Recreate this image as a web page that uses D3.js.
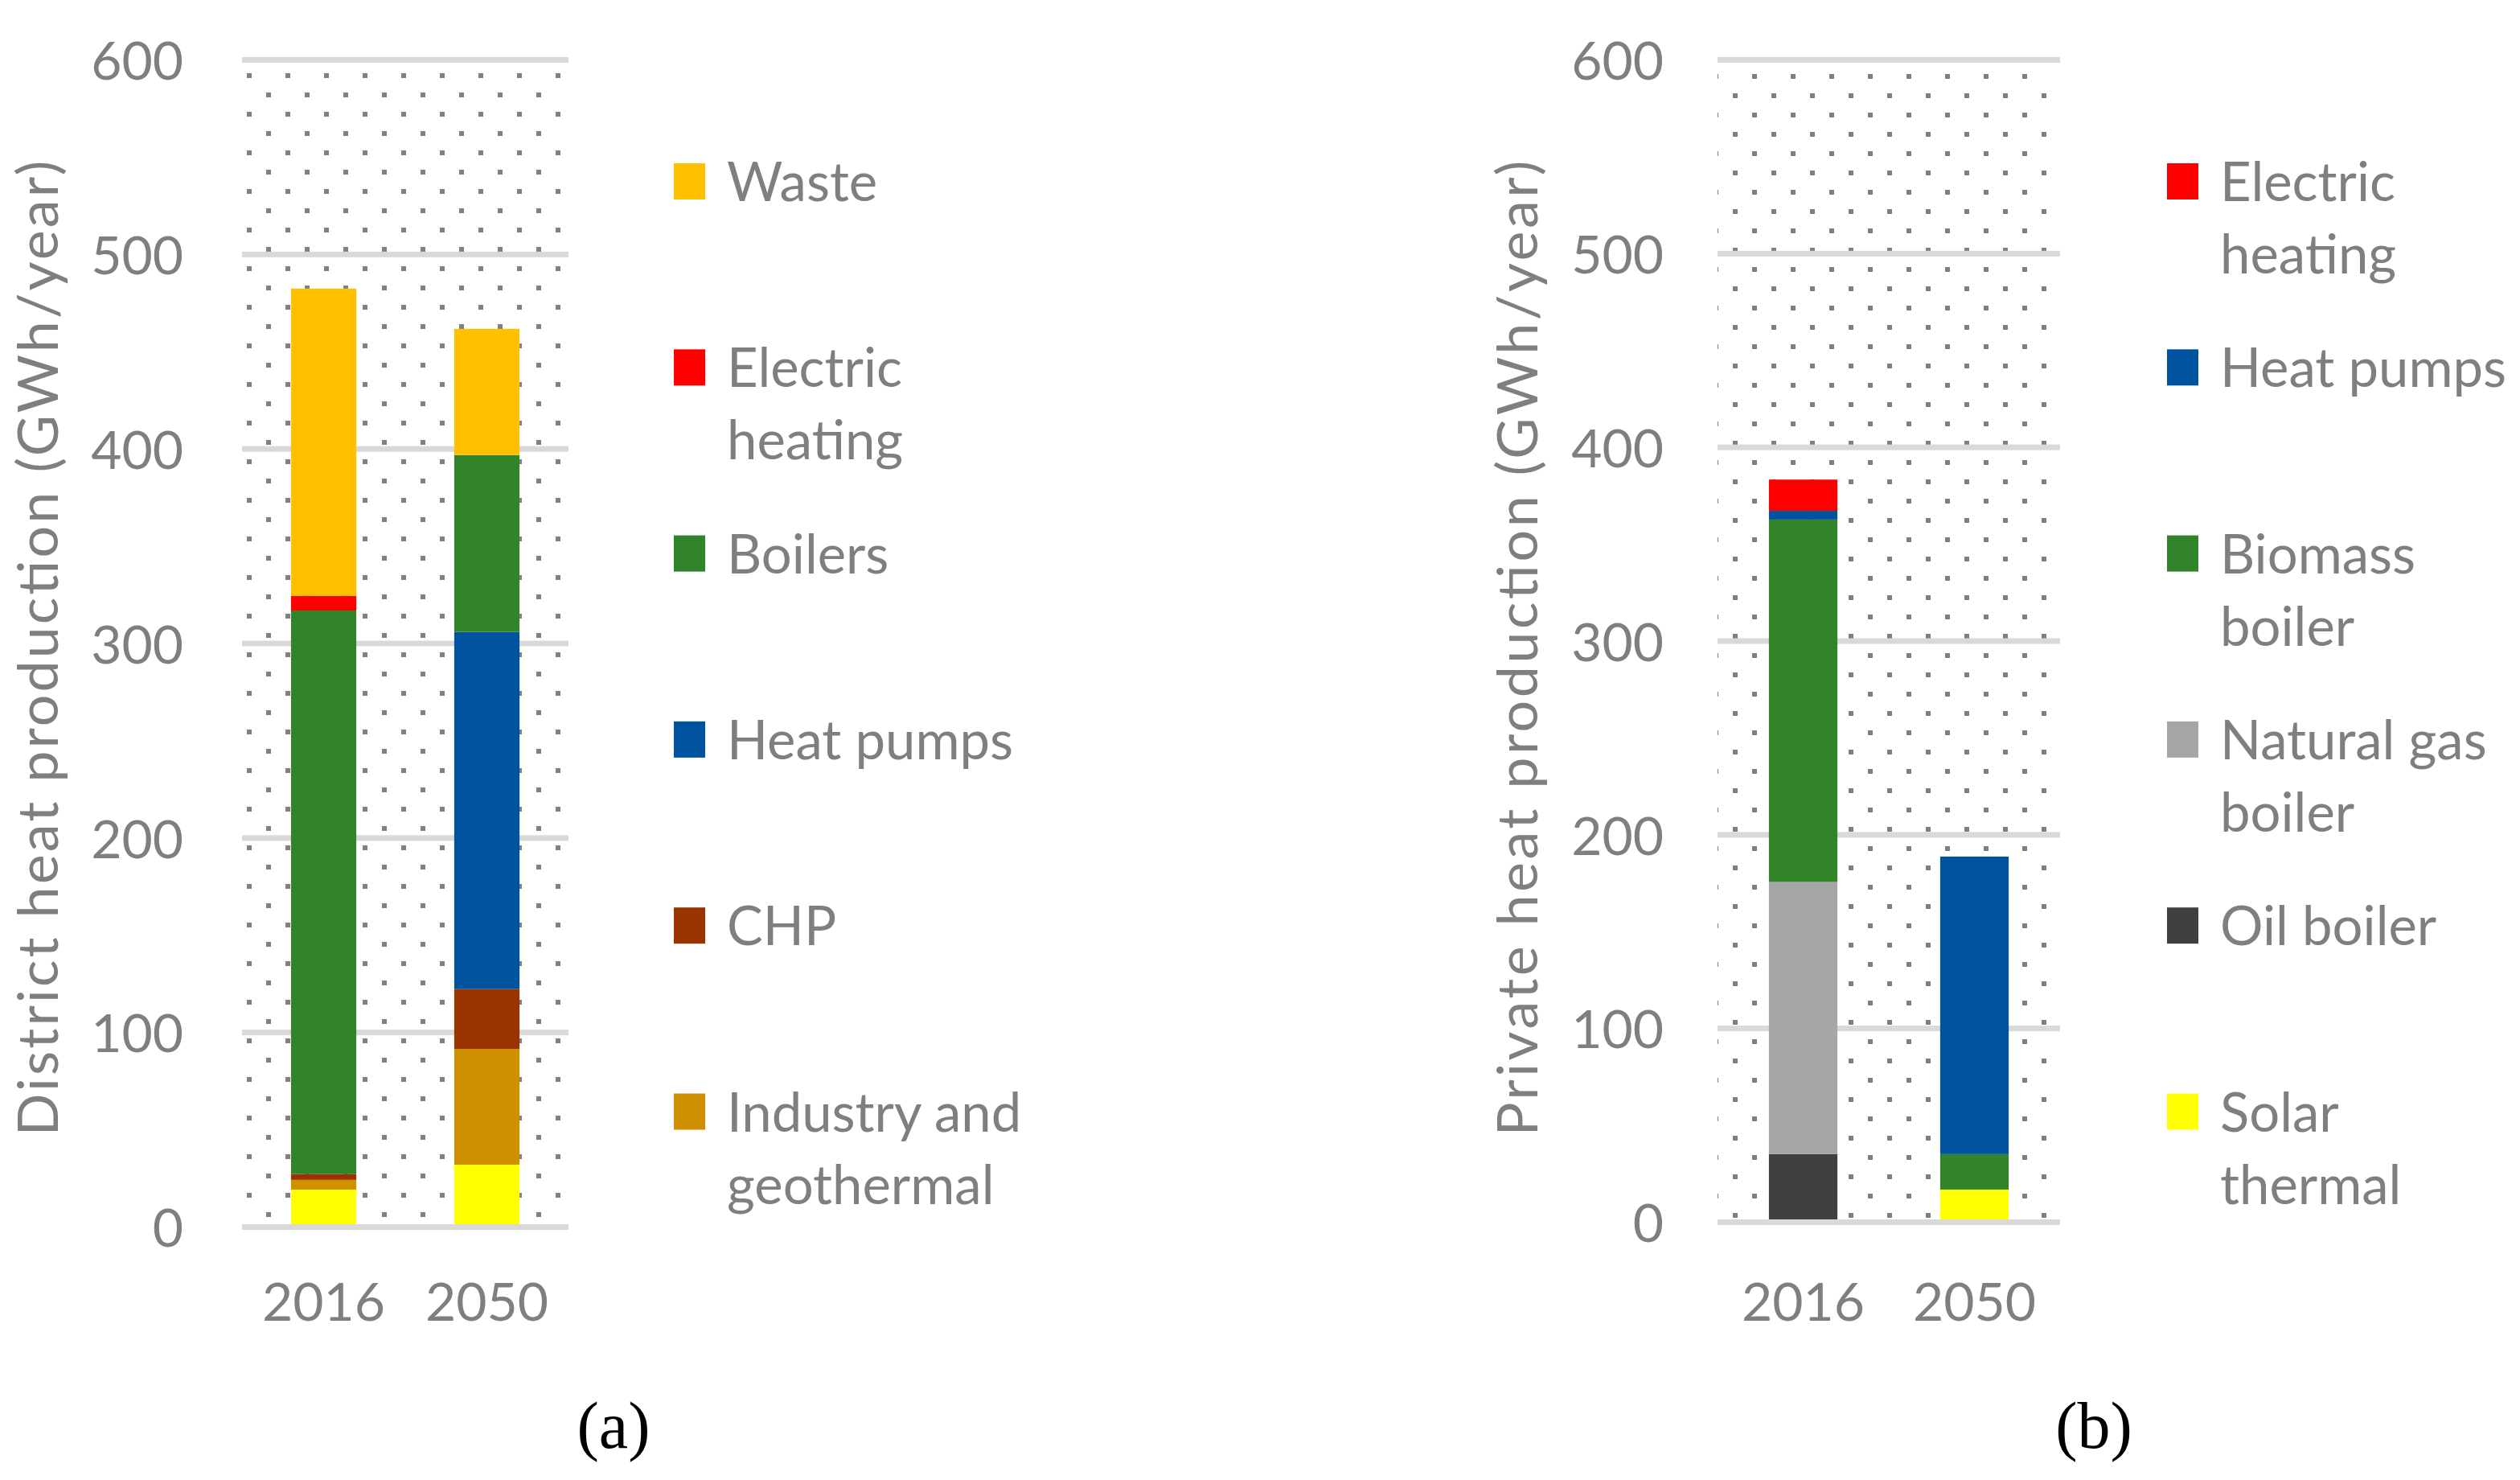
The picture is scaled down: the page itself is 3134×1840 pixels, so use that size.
<!DOCTYPE html>
<html>
<head>
<meta charset="utf-8">
<script src="https://cdn.jsdelivr.net/npm/d3@7"></script>
<style>
  body { margin: 0; background: #fff; }
  svg text { font-family: Lato, "Open Sans", sans-serif; fill: #7f7f7f; }
  svg text.tag { font-family: "Liberation Serif", "DejaVu Serif", serif; fill: #000; }
</style>
</head>
<body>
<div class="chart"></div>
<script>
const years = ["2016", "2050"];
const yTicks = [0, 100, 200, 300, 400, 500, 600];

// (a) district heat, stack order bottom -> top
const districtSeries = ["Solar thermal", "Industry and geothermal", "CHP", "Heat pumps", "Boilers", "Electric heating", "Waste"];
const district2016 = [17.8, 5.0, 3.0, 0, 289.7, 7.5, 158];
const district2050 = [30.6, 59.5, 30.8, 183.6, 90.9, 0, 64.9];
const districtColors = ["#ffff00", "#cf9000", "#993300", "#00549f", "#318429", "#ff0000", "#ffc000"];
const districtLegend = ["Waste", "Electric heating", "Boilers", "Heat pumps", "CHP", "Industry and geothermal"];
const districtLegendLines = [["Waste"], ["Electric", "heating"], ["Boilers"], ["Heat pumps"], ["CHP"], ["Industry and", "geothermal"]];

// (b) private heat, stack order bottom -> top
const privateSeries = ["Solar thermal", "Oil boiler", "Natural gas boiler", "Biomass boiler", "Heat pumps", "Electric heating"];
const private2016 = [0, 33.7, 140.5, 187.1, 4.5, 16.1];
const private2050 = [15.4, 0, 0, 18.3, 153.6, 0];
const privateColors = ["#ffff00", "#404040", "#a6a6a6", "#318429", "#00549f", "#ff0000"];
const privateLegend = ["Electric heating", "Heat pumps", "Biomass boiler", "Natural gas boiler", "Oil boiler", "Solar thermal"];
const privateLegendLines = [["Electric", "heating"], ["Heat pumps"], ["Biomass", "boiler"], ["Natural gas", "boiler"], ["Oil boiler"], ["Solar", "thermal"]];

const W = 3134, H = 1840;
const svg = d3.select(".chart").append("svg")
  .attr("width", W)
  .attr("height", H)
  .style("display", "block");

const defs = svg.append("defs");

const drawPanel = p => {
  const g = svg.append("g");

  // dotted plot-area fill (Excel 10% pattern)
  const pat = defs.append("pattern")
    .attr("id", p.id + "-dots")
    .attr("patternUnits", "userSpaceOnUse")
    .attr("x", p.left + p.dot[0])
    .attr("y", p.top + p.dot[1])
    .attr("width", 48)
    .attr("height", 48);
  pat.append("rect").attr("x", 0).attr("y", 0).attr("width", 6).attr("height", 6).attr("fill", "#808080");
  pat.append("rect").attr("x", 24).attr("y", 24).attr("width", 6).attr("height", 6).attr("fill", "#808080");

  g.append("rect")
    .attr("x", p.left)
    .attr("y", p.top + 7)
    .attr("width", p.right - p.left)
    .attr("height", p.bottom - p.top - 7)
    .attr("fill", `url(#${p.id}-dots)`);

  const y = d3.scaleLinear().domain([0, 600]).range([p.bottom, p.top]);
  const x = d3.scaleBand()
    .domain(years)
    .range([p.left, p.right])
    .paddingInner(0.6)
    .paddingOuter(0.3);
  const color = d3.scaleOrdinal().domain(p.series).range(p.colors);

  // gridlines
  g.selectAll("rect.grid")
    .data(yTicks)
    .enter()
    .append("rect")
    .attr("class", "grid")
    .attr("x", p.left)
    .attr("y", d => y(d))
    .attr("width", p.right - p.left)
    .attr("height", 7)
    .attr("fill", "#d9d9d9");

  // stacked bars
  const rows = years.map((yr, i) => {
    const row = { year: yr };
    p.series.forEach((s, k) => (row[s] = (i === 0 ? p.v2016 : p.v2050)[k]));
    return row;
  });
  const stacked = d3.stack().keys(p.series)(rows);

  g.selectAll("g.layer")
    .data(stacked)
    .enter()
    .append("g")
    .attr("class", "layer")
    .attr("fill", d => color(d.key))
    .selectAll("rect")
    .data(d => d.filter(e => e[1] - e[0] > 0))
    .enter()
    .append("rect")
    .attr("x", d => x(d.data.year))
    .attr("y", d => y(d[1]))
    .attr("width", x.bandwidth())
    .attr("height", d => y(d[0]) - y(d[1]));

  // y axis labels
  const yAxis = g.append("g")
    .attr("transform", `translate(${p.tickRight},0)`)
    .call(d3.axisLeft(y).tickValues(yTicks).tickSize(0).tickPadding(0));
  yAxis.select(".domain").remove();
  yAxis.attr("font-family", null).attr("font-size", null);
  yAxis.selectAll("text")
    .attr("fill", null)
    .attr("dy", "0.42em")
    .style("font-size", "66px");

  // x axis labels
  const xAxis = g.append("g")
    .attr("transform", `translate(0,1642)`)
    .call(d3.axisBottom(x).tickSize(0));
  xAxis.select(".domain").remove();
  xAxis.attr("font-family", null).attr("font-size", null);
  xAxis.selectAll("text")
    .attr("fill", null)
    .attr("y", 0)
    .attr("dy", 0)
    .style("font-size", "66px");

  // axis title
  g.append("text")
    .attr("transform", `translate(${p.titleX},806) rotate(-90)`)
    .attr("text-anchor", "middle")
    .attr("textLength", 1213)
    .attr("lengthAdjust", "spacing")
    .style("font-size", "70px")
    .text(p.title);

  // legend
  const leg = g.selectAll("g.legend")
    .data(p.legend)
    .enter()
    .append("g")
    .attr("class", "legend")
    .attr("transform", (d, i) => `translate(${p.legendX},${250 + 231.3 * i})`);
  leg.append("rect")
    .attr("x", -66)
    .attr("y", -47)
    .attr("width", 39)
    .attr("height", 45)
    .attr("fill", d => color(d));
  leg.each(function(d, i) {
    d3.select(this)
      .selectAll("text")
      .data(p.legendLines[i])
      .enter()
      .append("text")
      .attr("x", 0)
      .attr("y", (t, j) => j * 90)
      .style("font-size", "67px")
      .text(t => t);
  });

  // panel tag
  g.append("text")
    .attr("class", "tag")
    .attr("x", p.tagX)
    .attr("y", 1800)
    .attr("text-anchor", "middle")
    .style("font-size", "82px")
    .text(p.tag);
};

drawPanel({
  id: "a", left: 301, right: 707, top: 71, bottom: 1522, dot: [6, 20],
  tickRight: 228, titleX: 72, legendX: 904, tagX: 763, tag: "(a)",
  title: "District heat production (GWh/year)",
  series: districtSeries, v2016: district2016, v2050: district2050, colors: districtColors,
  legend: districtLegend, legendLines: districtLegendLines
});

drawPanel({
  id: "b", left: 2136, right: 2562, top: 71, bottom: 1516, dot: [43, 21],
  tickRight: 2069, titleX: 1912, legendX: 2761, tagX: 2604, tag: "(b)",
  title: "Private heat production (GWh/year)",
  series: privateSeries, v2016: private2016, v2050: private2050, colors: privateColors,
  legend: privateLegend, legendLines: privateLegendLines
});
</script>
</body>
</html>
